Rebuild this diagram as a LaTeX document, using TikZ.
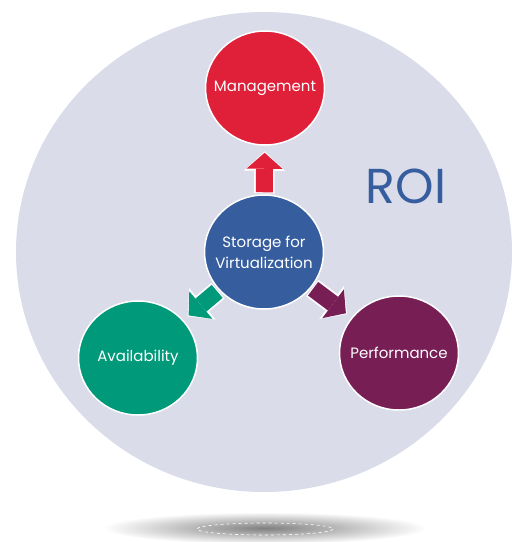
\documentclass[tikz,border=0pt]{standalone}
\usepackage{fontspec}
\setmainfont{Poppins}
\usetikzlibrary{shapes.geometric,arrows.meta}

\definecolor{roiback}{HTML}{DADCEA}
\definecolor{mgmtred}{HTML}{E01F38}
\definecolor{storblue}{HTML}{365E9F}
\definecolor{availgreen}{HTML}{009A7A}
\definecolor{perfpurple}{HTML}{771E55}

% block arrow with a white rim
\newcommand{\flow}[3]{%
  \draw[white,line width=20.5pt,shorten <=1pt,shorten >=5.5pt,
    -{Triangle[length=19.5pt,width=41pt,line width=0pt]}] (#1) -- (#2);
  \draw[#3,line width=17pt,shorten <=2pt,shorten >=7pt,
    -{Triangle[length=16pt,width=36pt,line width=0pt]}] (#1) -- (#2);
}

\begin{document}
\begin{tikzpicture}[x=1pt,y=-1pt,
    bubble/.style={ellipse,minimum width=119pt,minimum height=114pt,inner sep=-12pt,
      draw=white,line width=1.5pt,text=white,align=center,
      font=\fontsize{15}{21}\selectfont}]

      \useasboundingbox (0,0) rectangle (512,542);

      \shade[inner color=black!50,outer color=white] (265,528) ellipse [x radius=162, y radius=16]; % shadow
      \draw[white,dashed,line width=0.6pt] (265,529) ellipse [x radius=68, y radius=6];
      \fill[roiback] (264,252) ellipse [x radius=248, y radius=240]; % backdrop

      \node[text=storblue,font=\fontsize{49}{49}\selectfont] (roi) at (406,186) {ROI};

      \node[bubble,fill=storblue] (stor) at (264,252) {Storage for\\Virtualization};
      \node[bubble,fill=mgmtred] (mgmt) at (265,88) {Management};
      \node[bubble,fill=availgreen] (avail) at (138,358) {Availability};
      \node[bubble,fill=perfpurple] (perf) at (399,353) {Performance};

      \flow{stor}{mgmt}{mgmtred}
      \flow{stor}{avail}{availgreen}
      \flow{stor}{perf}{perfpurple}

\end{tikzpicture}
\end{document}
